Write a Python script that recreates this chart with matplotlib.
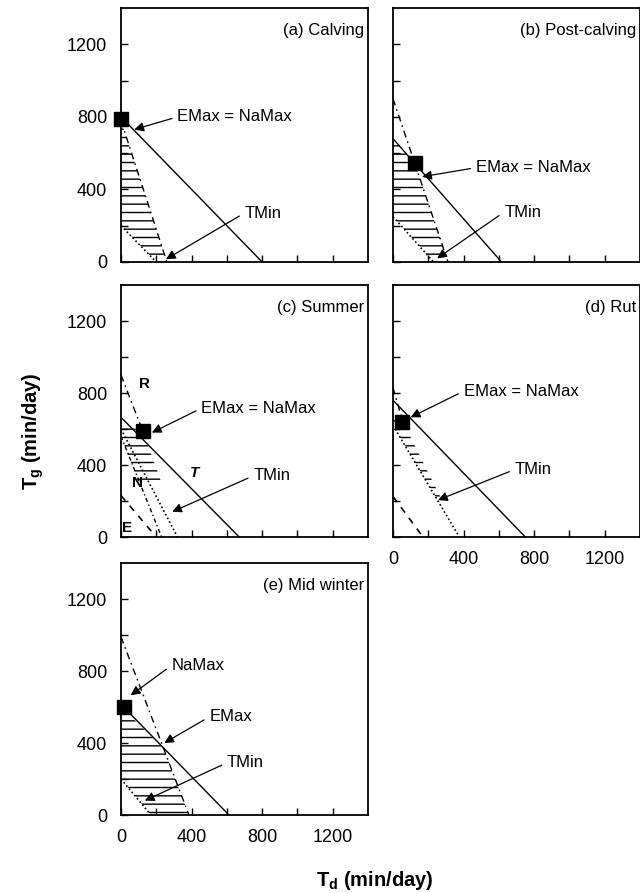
import numpy as np
import matplotlib
matplotlib.use("Agg")
import matplotlib.pyplot as plt

plt.rcParams['font.family'] = 'Liberation Sans'
plt.rcParams['mathtext.fontset'] = 'custom'
plt.rcParams['mathtext.rm'] = 'Liberation Sans'
plt.rcParams['mathtext.bf'] = 'Liberation Sans:bold'
plt.rcParams['hatch.linewidth'] = 1.0

# panel titles
titles = ['(a) Calving', '(b) Post-calving', '(c) Summer', '(d) Rut', '(e) Mid winter']

# constraint lines, (Td, Tg) end points in min/day; None = not drawn
t_lines = [[(0, 800), (800, 0)], [(0, 680), (615, 0)], [(0, 665), (670, 0)],
           [(0, 760), (750, 0)], [(0, 615), (612, 0)]]
r_lines = [[(0, 780), (260, 0)], [(0, 900), (312, 0)], [(0, 900), (124, 587)],
           [(0, 830), (56, 640)], [(0, 990), (385, 0)]]
n_lines = [None, None, [(0, 560), (230, 0)], None, None]
e_lines = [None, None, [(0, 230), (200, 0)], [(0, 225), (170, 0)], None]
tmin_lines = [[(0, 200), (200, 0)], [(0, 250), (230, 0)], [(0, 600), (320, 0)],
              [(0, 620), (376, 0)], [(0, 200), (170, 0)]]

# feasible (hatched) regions
hatch_polys = [
    [(0, 780), (260, 0), (200, 0), (0, 200)],
    [(0, 680), (124, 545), (312, 0), (230, 0), (0, 250)],
    [(0, 630), (124, 587), (230, 300), (100, 300), (0, 560)],
    [(0, 690), (56, 640), (280, 200), (255, 200), (0, 620)],
    [(0, 600), (239, 375), (385, 0), (170, 0), (0, 200)],
]

# optimum points (filled squares)
best_td = [0, 124, 124, 50, 15]
best_tg = [790, 547, 587, 640, 600]

# annotations: (text, text position, arrow target)
notes = [
    [('EMax = NaMax', (320, 800), (75, 730)), ('TMin', (700, 270), (255, 15))],
    [('EMax = NaMax', (470, 520), (165, 470)), ('TMin', (630, 275), (250, 20))],
    [('EMax = NaMax', (455, 715), (175, 580)), ('TMin', (750, 340), (290, 140))],
    [('EMax = NaMax', (400, 810), (100, 665)), ('TMin', (690, 375), (255, 205))],
    [('NaMax', (285, 830), (55, 665)), ('EMax', (500, 545), (245, 400)),
     ('TMin', (600, 290), (135, 80))],
]

# line letters in panel (c)
c_labels = ['R', 'N', 'E', 'T']
c_label_pos = [(135, 850), (95, 300), (35, 50), (420, 358)]

tick_vals = np.arange(0, 1400, 200)
tick_text = ['0', '', '400', '', '800', '', '1200']

W, H = 640, 893
fig = plt.figure(figsize=(6.4, 8.93), dpi=100)

# axes boxes in pixels: left, top, right, bottom
boxes = [(121, 8, 368, 262), (393, 8, 640, 262),
         (121, 285, 368, 537), (393, 285, 640, 537),
         (121, 563, 368, 815)]


def draw_segment(ax, seg, **kw):
    if seg is None:
        return
    xs, ys = zip(*seg)
    ax.plot(xs, ys, color='k', **kw)


for i, title in enumerate(titles):
    l, t, r, b = boxes[i]
    ax = fig.add_axes([l / W, 1 - b / H, (r - l) / W, (b - t) / H])
    ax.set_xlim(0, 1400)
    ax.set_ylim(0, 1400)

    xs, ys = zip(*hatch_polys[i])
    ax.fill(xs, ys, facecolor='none', edgecolor='k', hatch='--', lw=0)

    draw_segment(ax, t_lines[i], lw=1.0)
    draw_segment(ax, r_lines[i], lw=1.0, dashes=(5, 3, 1.2, 3))
    draw_segment(ax, n_lines[i], lw=1.0, dashes=(3, 2, 1, 2))
    draw_segment(ax, e_lines[i], lw=1.2, dashes=(4, 4))
    draw_segment(ax, tmin_lines[i], lw=1.2, dashes=(1, 1.5))

    ax.plot(best_td[i], best_tg[i], 'ks', ms=10.5, clip_on=False, zorder=5)

    for txt, xyt, xy in notes[i]:
        ax.annotate(txt, xy=xy, xytext=xyt, fontsize=12, ha='left', va='center',
                    arrowprops=dict(arrowstyle='-|>', color='k', lw=0.9,
                                    mutation_scale=14, relpos=(0, 0.5),
                                    shrinkA=2, shrinkB=0))

    if i == 2:
        for lab, pos in zip(c_labels, c_label_pos):
            ax.text(pos[0], pos[1], lab, fontsize=11, fontweight='bold',
                    ha='center', va='center',
                    style='italic' if lab == 'T' else 'normal')

    ax.text(0.985, 0.91, title, transform=ax.transAxes, ha='right', va='center',
            fontsize=12)

    ax.set_xticks(tick_vals)
    ax.set_yticks(tick_vals)
    ax.tick_params(direction='in', length=5, width=1.0, top=False, right=False,
                   labelsize=13)
    ax.tick_params(axis='y', pad=10)
    ax.tick_params(axis='x', pad=10)
    ax.set_yticklabels(tick_text if i in (0, 2, 4) else [])
    ax.set_xticklabels(tick_text if i in (3, 4) else [])
    for sp in ax.spines.values():
        sp.set_linewidth(1.3)

fig.text(33 / W, 1 - 431 / H, r'$\mathbf{T_g}$ (min/day)', rotation=90,
         ha='center', va='center', fontsize=14.5, fontweight='bold')
fig.text(375 / W, 1 - 881 / H, r'$\mathbf{T_d}$ (min/day)',
         ha='center', va='center', fontsize=14.5, fontweight='bold')

fig.savefig('out.png', dpi=100)
